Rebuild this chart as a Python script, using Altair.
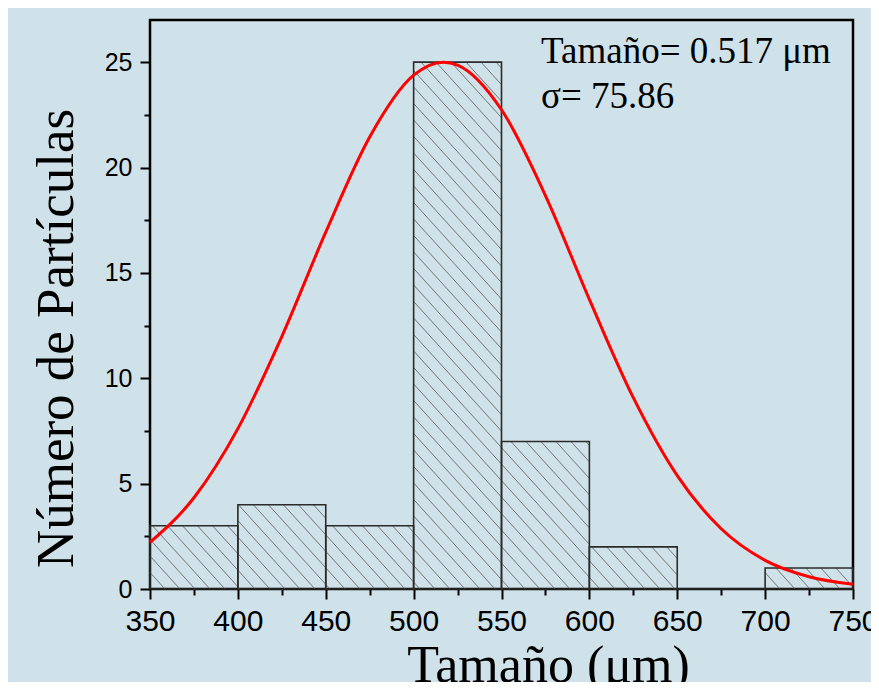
import altair as alt
import pandas as pd

# ---- data ----
bin_start = [350, 400, 450, 500, 550, 600, 650, 700]
bin_end = [400, 450, 500, 550, 600, 650, 700, 750]
counts = [3, 4, 3, 25, 7, 2, 0, 1]

curve_x = [350, 375, 400, 425, 450, 475, 500, 517, 525, 550, 575, 600, 625, 650, 675, 700, 725, 750]
curve_y = [2.21, 4.33, 7.61, 11.98, 16.93, 21.45, 24.38, 25.0, 24.86, 22.74, 18.67, 13.74, 9.08, 5.38, 2.86, 1.36, 0.58, 0.22]

x_major = [350, 400, 450, 500, 550, 600, 650, 700, 750]
x_minor = [375, 425, 475, 525, 575, 625, 675, 725]
y_major = [0, 5, 10, 15, 20, 25]
y_minor = [2.5, 7.5, 12.5, 17.5, 22.5]

note_lines = ["Tamaño= 0.517 μm", "σ= 75.86"]

X_DOM = [350, 750]
Y_DOM = [0, 27]
W, H = 703, 569

bars = pd.DataFrame({"start": bin_start, "end": bin_end, "count": counts})
curve = pd.DataFrame({"x": curve_x, "y": curve_y})

# ---- hatch pattern (decoration) clipped to each bar ----
sx = W / (X_DOM[1] - X_DOM[0])
sy = H / (Y_DOM[1] - Y_DOM[0])
slope = 1.1      # pixel slope of hatch lines (down to the right)
spacing = 15.0   # horizontal spacing in px
rows = []
for s, e, c in zip(bin_start, bin_end, counts):
    if c <= 0:
        continue
    a = (s - X_DOM[0]) * sx
    b = (e - X_DOM[0]) * sx
    h = c * sy
    k0 = int(a // spacing)
    k1 = int((b + h / slope) // spacing) + 1
    for k in range(k0, k1 + 1):
        u0 = k * spacing
        uL = max(a, u0 - h / slope)
        uR = min(b, u0)
        if uR - uL < 0.5:
            continue
        vL = slope * (u0 - uL)
        vR = slope * (u0 - uR)
        rows.append({
            "x1": X_DOM[0] + uL / sx, "y1": vL / sy,
            "x2": X_DOM[0] + uR / sx, "y2": vR / sy,
        })
hatch = pd.DataFrame(rows)

xscale = alt.Scale(domain=X_DOM, nice=False, zero=False)
yscale = alt.Scale(domain=Y_DOM, nice=False)

label_font = "Liberation Sans"
title_font = "Liberation Serif"

x_axis_major = alt.Axis(
    values=x_major, orient="bottom", tickSize=10, tickWidth=2, tickColor="black",
    labelFont=label_font, labelFontSize=30, labelColor="black", labelPadding=7,
    labelFlush=False, labelOverlap=False, labelBound=False,
    domain=False, grid=False,
    title="Tamaño (μm)", titleFont=title_font, titleFontSize=52,
    titleFontWeight="normal", titleColor="black",
    titleX=398, titleY=92, titleAlign="center", titleBaseline="alphabetic",
)
y_axis_major = alt.Axis(
    values=y_major, orient="left", tickSize=10, tickWidth=2, tickColor="black",
    labelFont=label_font, labelFontSize=25, labelColor="black", labelPadding=8,
    labelFlush=False, labelOverlap=False,
    domain=False, grid=False,
    title="Número de Partículas", titleFont=title_font, titleFontSize=53,
    titleFontWeight="normal", titleColor="black",
    titleX=-78, titleY=318, titleAlign="center", titleBaseline="alphabetic", titleAngle=270,
)
x_axis_minor = alt.Axis(values=x_minor, orient="bottom", tickSize=6, tickWidth=2,
                        tickColor="black", labels=False, domain=False, grid=False, title=None)
y_axis_minor = alt.Axis(values=y_minor, orient="left", tickSize=6, tickWidth=2,
                        tickColor="black", labels=False, domain=False, grid=False, title=None)

hatch_layer = alt.Chart(hatch).mark_rule(color="#747474", strokeWidth=1).encode(
    x=alt.X("x1:Q", scale=xscale, axis=x_axis_major),
    x2="x2:Q",
    y=alt.Y("y1:Q", scale=yscale, axis=y_axis_major),
    y2="y2:Q",
)

bar_layer = alt.Chart(bars).mark_rect(fillOpacity=0, stroke="#2b2b2b", strokeWidth=1.6).encode(
    x=alt.X("start:Q", scale=xscale, axis=x_axis_minor),
    x2="end:Q",
    y=alt.Y("count:Q", scale=yscale, axis=y_axis_minor),
    y2=alt.datum(0),
)

curve_layer = alt.Chart(curve).mark_line(color="#ff0000", strokeWidth=3, interpolate="monotone").encode(
    x=alt.X("x:Q", scale=xscale, axis=None),
    y=alt.Y("y:Q", scale=yscale, axis=None),
)

note1 = alt.Chart(pd.DataFrame({"t": [note_lines[0]]})).mark_text(
    font=title_font, fontSize=37, color="black", align="left", baseline="alphabetic"
).encode(x=alt.value(391), y=alt.value(43), text="t:N")
note2 = alt.Chart(pd.DataFrame({"t": [note_lines[1]]})).mark_text(
    font=title_font, fontSize=37, color="black", align="left", baseline="alphabetic"
).encode(x=alt.value(391), y=alt.value(88), text="t:N")

chart = (
    alt.layer(hatch_layer, bar_layer, curve_layer, note1, note2)
    .resolve_axis(x="independent", y="independent")
    .properties(
        width=W, height=H,
        autosize=alt.AutoSizeParams(type="none"),
        padding={"left": 142, "top": 12, "right": 18, "bottom": 93},
        background="#cfe2e9",
    )
    .configure_view(stroke="black", strokeWidth=2.5)
)

chart.save("out.html", embed_options={"renderer": "svg", "actions": False})
